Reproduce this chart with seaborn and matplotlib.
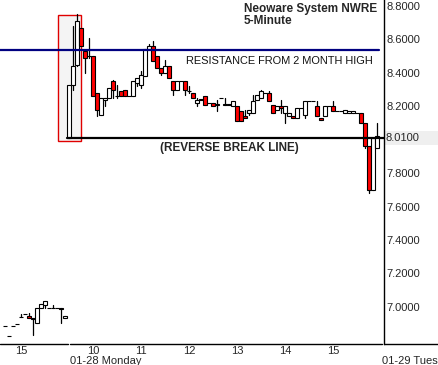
import pandas as pd
import matplotlib.pyplot as plt
from matplotlib.patches import Rectangle
from matplotlib.lines import Line2D
import seaborn as sns

# dados: barras de 5 minutos (dia anterior 14:40-16:00, depois 01-28 9:30-16:00)
bar_idx = list(range(-16, 78))
opens = [6.886, 6.826, 6.886, 6.898, 6.940, 6.958, 6.946, 6.934, 6.904, 6.994, 7.012, 6.994, 6.994, 6.994, 6.994, 6.934,
         8.01, 8.33, 8.45, 8.67, 8.53, 8.50, 8.50, 8.28, 8.15, 8.24, 8.25, 8.35, 8.26, 8.29, 8.30, 8.26,
         8.26, 8.34, 8.33, 8.38, 8.54, 8.56, 8.50, 8.43, 8.40, 8.44, 8.35, 8.30, 8.35, 8.35, 8.29, 8.28,
         8.22, 8.24, 8.26, 8.22, 8.22, 8.21, 8.25, 8.21, 8.21, 8.20, 8.20, 8.17, 8.14, 8.16, 8.16, 8.24,
         8.25, 8.28, 8.28, 8.21, 8.18, 8.20, 8.16, 8.14, 8.14, 8.13, 8.19, 8.15, 8.23, 8.23, 8.20, 8.13,
         8.14, 8.20, 8.20, 8.17, 8.17, 8.16, 8.16, 8.16, 8.16, 8.16, 8.10, 7.96, 7.70, 7.95]
highs = [6.886, 6.826, 6.886, 6.898, 6.958, 6.958, 6.964, 6.934, 6.994, 7.018, 7.036, 6.994, 7.012, 6.994, 6.994, 6.946,
         8.33, 8.68, 8.75, 8.67, 8.53, 8.61, 8.50, 8.28, 8.25, 8.25, 8.31, 8.36, 8.33, 8.29, 8.30, 8.26,
         8.35, 8.37, 8.41, 8.54, 8.57, 8.59, 8.50, 8.43, 8.48, 8.44, 8.35, 8.35, 8.35, 8.35, 8.32, 8.28,
         8.25, 8.24, 8.26, 8.22, 8.22, 8.24, 8.25, 8.25, 8.21, 8.23, 8.20, 8.17, 8.18, 8.18, 8.27, 8.27,
         8.30, 8.28, 8.29, 8.21, 8.20, 8.24, 8.20, 8.16, 8.14, 8.19, 8.19, 8.23, 8.23, 8.23, 8.23, 8.13,
         8.20, 8.20, 8.23, 8.17, 8.17, 8.18, 8.17, 8.17, 8.16, 8.16, 8.10, 7.96, 8.01, 8.10]
lows = [6.886, 6.826, 6.886, 6.898, 6.940, 6.958, 6.934, 6.832, 6.904, 6.994, 6.994, 6.994, 6.994, 6.994, 6.904, 6.934,
        8.01, 8.30, 8.44, 8.56, 8.40, 8.49, 8.26, 8.14, 8.15, 8.20, 8.25, 8.25, 8.25, 8.26, 8.26, 8.26,
        8.26, 8.32, 8.31, 8.38, 8.54, 8.47, 8.43, 8.39, 8.40, 8.37, 8.27, 8.30, 8.35, 8.27, 8.28, 8.25,
        8.20, 8.24, 8.21, 8.22, 8.20, 8.17, 8.25, 8.21, 8.21, 8.20, 8.11, 8.11, 8.13, 8.15, 8.16, 8.24,
        8.25, 8.28, 8.23, 8.16, 8.18, 8.16, 8.10, 8.14, 8.13, 8.13, 8.19, 8.13, 8.23, 8.23, 8.14, 8.12,
        8.14, 8.20, 8.17, 8.17, 8.17, 8.16, 8.16, 8.16, 8.16, 8.10, 7.95, 7.68, 7.70, 7.95]
closes = [6.886, 6.826, 6.886, 6.898, 6.940, 6.958, 6.934, 6.928, 6.994, 7.018, 7.036, 6.994, 6.994, 6.994, 6.988, 6.946,
          8.33, 8.44, 8.71, 8.56, 8.49, 8.50, 8.26, 8.18, 8.25, 8.25, 8.31, 8.30, 8.26, 8.26, 8.26, 8.26,
          8.35, 8.37, 8.39, 8.54, 8.56, 8.47, 8.43, 8.40, 8.44, 8.37, 8.30, 8.35, 8.35, 8.30, 8.29, 8.25,
          8.24, 8.24, 8.21, 8.22, 8.20, 8.21, 8.25, 8.21, 8.21, 8.23, 8.11, 8.11, 8.13, 8.18, 8.23, 8.27,
          8.29, 8.28, 8.23, 8.16, 8.20, 8.19, 8.20, 8.16, 8.13, 8.19, 8.19, 8.23, 8.23, 8.23, 8.14, 8.12,
          8.20, 8.20, 8.17, 8.17, 8.17, 8.18, 8.17, 8.17, 8.16, 8.10, 7.96, 7.70, 8.01, 8.02]

hour_pos = [-12, 6, 18, 30, 42, 54, 66]
hour_labels = ['15', '10', '11', '12', '13', '14', '15']
price_ticks = [8.8, 8.6, 8.4, 8.2, 7.8, 7.6, 7.4, 7.2, 7.0]
last_price = 8.01
resistance = 8.535
break_line = 8.01

df = pd.DataFrame({'i': bar_idx, 'open': opens, 'high': highs, 'low': lows, 'close': closes})

sns.set_style("white")
plt.rcParams['font.family'] = ['Liberation Sans', 'DejaVu Sans']

W, H = 439, 365
fig = plt.figure(figsize=(W / 100, H / 100), dpi=100)
ax = fig.add_axes([0, 21 / H, 384 / W, 344 / H])
ax.patch.set_alpha(0)

# area destacada (abertura)
ax.add_patch(Rectangle((-2.75, 7.99), 5.75, 0.756, facecolor='#f4f4f4', edgecolor='#e00000', lw=1, zorder=0.5))

# pavios
wicks = pd.concat([df[['i', 'low']].rename(columns={'low': 'price'}),
                   df[['i', 'high']].rename(columns={'high': 'price'})])
wicks['bar'] = wicks['i']
sns.lineplot(data=wicks, x='i', y='price', units='bar', estimator=None, sort=False,
             color='black', lw=0.9, ax=ax, legend=False)

# corpos
up = df['close'] >= df['open']
body_h = (df['close'] - df['open']).abs().clip(lower=0.002)
body_b = df[['open', 'close']].min(axis=1)
ax.bar(df['i'], body_h, bottom=body_b, width=0.85,
       color=['white' if u else '#ff0000' for u in up], edgecolor='black', lw=0.8, zorder=3)

# linhas horizontais
ax.axhline(resistance, xmin=0, xmax=379 / 384, color='#000080', lw=1.6, zorder=4)
ax.axhline(break_line, xmin=67 / 384, xmax=1, color='black', lw=1.6, zorder=4)
ax.text(76, 8.471, 'RESISTANCE FROM 2 MONTH HIGH', ha='right', va='center', fontsize=7.9, color='#111111')
ax.text(40, 7.95, '(REVERSE BREAK LINE)', ha='center', va='center', fontsize=8.5, fontweight='bold')

ax.set_xlim(-17.25, 78.75)
ax.set_ylim(6.778, 8.836)
ax.set_xlabel('')
ax.set_ylabel('')
for s in ['top', 'left', 'bottom']:
    ax.spines[s].set_visible(False)
ax.spines['right'].set_color('black')
ax.spines['right'].set_linewidth(1)

ax.set_xticks(hour_pos)
ax.set_xticklabels(hour_labels)
ax.tick_params(axis='x', length=0, pad=1.5, labelsize=8)
ax.yaxis.tick_right()
ax.set_yticks(price_ticks)
ax.set_yticklabels([f'{v:.4f}' for v in price_ticks])
ax.tick_params(axis='y', length=0, pad=1.5, labelsize=8)

# etiqueta do ultimo preco (fundo cinza atras do texto)
fig.patches.append(Rectangle((385 / W, 1 - 145 / H), 54 / W, 14 / H, transform=fig.transFigure,
                             facecolor='#efefef', edgecolor='none', zorder=-1))
ax.text(1 + 2 / 384, last_price, f'{last_price:.4f}', transform=ax.get_yaxis_transform(),
        ha='left', va='center', fontsize=8, zorder=10)

# linha inferior com quebras de dia
for x0, x1 in [(0, 68), (70, 382), (384, 439)]:
    fig.add_artist(Line2D([x0 / W, x1 / W], [1 - 344 / H] * 2, color='black', lw=1, transform=fig.transFigure))

fig.text(70 / W, 1 - 361 / H, '01-28 Monday', va='center', fontsize=8)
fig.text(382 / W, 1 - 361 / H, '01-29 Tuesday', va='center', fontsize=8)
fig.text(244 / W, 1 - 9 / H, 'Neoware System NWRE', va='center', fontsize=8.5, fontweight='bold')
fig.text(244 / W, 1 - 21.5 / H, '5-Minute', va='center', fontsize=8.5, fontweight='bold')

fig.savefig('out.png', dpi=100, facecolor='white')
